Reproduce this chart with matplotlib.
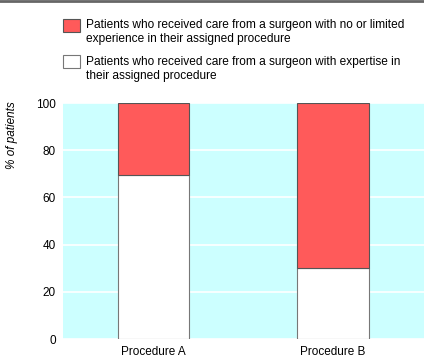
import matplotlib
matplotlib.use("Agg")
import matplotlib.pyplot as plt
from matplotlib.patches import Rectangle
from matplotlib.lines import Line2D

plt.rcParams['font.family'] = ['Liberation Sans', 'DejaVu Sans']

procedures = ["Procedure A", "Procedure B"]
expertise = [69.5, 30.0]
limited = [30.5, 70.0]
label_limited = "Patients who received care from a surgeon with no or limited\nexperience in their assigned procedure"
label_expert = "Patients who received care from a surgeon with expertise in\ntheir assigned procedure"

red = "#ff5a5a"
bg = "#ccffff"

fig = plt.figure(figsize=(4.24, 3.62), dpi=100)
ax = fig.add_axes([63 / 424, 23 / 362, 1 - 63 / 424, 236 / 362])
ax.set_facecolor(bg)

x = range(len(procedures))
ax.bar(x, expertise, width=0.4, color="white", edgecolor="#777777", linewidth=0.8, zorder=3)
ax.bar(x, limited, width=0.4, bottom=expertise, color=red, edgecolor="#555555", linewidth=0.8, zorder=3)

ax.set_xlim(-0.504, 1.507)
ax.set_ylim(0, 100)
ax.set_yticks([0, 20, 40, 60, 80, 100])
ax.set_xticks(list(x))
ax.set_xticklabels(procedures)
ax.tick_params(length=0, labelsize=8.5, pad=5)
ax.yaxis.grid(True, color="white", linewidth=1.2, zorder=1)
ax.set_axisbelow(True)
for s in ax.spines.values():
    s.set_visible(False)

fig.text(12 / 424, 1 - 135 / 362, "% of patients", rotation=90, style="italic",
         fontsize=8.5, ha="center", va="center")

# legend drawn by hand
fig.patches.append(Rectangle((63 / 424, 1 - 32 / 362), 17 / 424, 13 / 362,
                             transform=fig.transFigure, facecolor=red, edgecolor="#555555", linewidth=0.8))
fig.patches.append(Rectangle((63 / 424, 1 - 68 / 362), 17 / 424, 13 / 362,
                             transform=fig.transFigure, facecolor="white", edgecolor="#777777", linewidth=0.8))
fig.text(86 / 424, 1 - 19 / 362, label_limited, fontsize=8.6, va="top", ha="left", linespacing=1.22)
fig.text(86 / 424, 1 - 56 / 362, label_expert, fontsize=8.6, va="top", ha="left", linespacing=1.22)

# top rule
fig.lines.append(Line2D([0, 1], [1 - 1 / 362, 1 - 1 / 362], transform=fig.transFigure,
                        color="#666666", linewidth=2))

fig.savefig("out.png", dpi=100)
